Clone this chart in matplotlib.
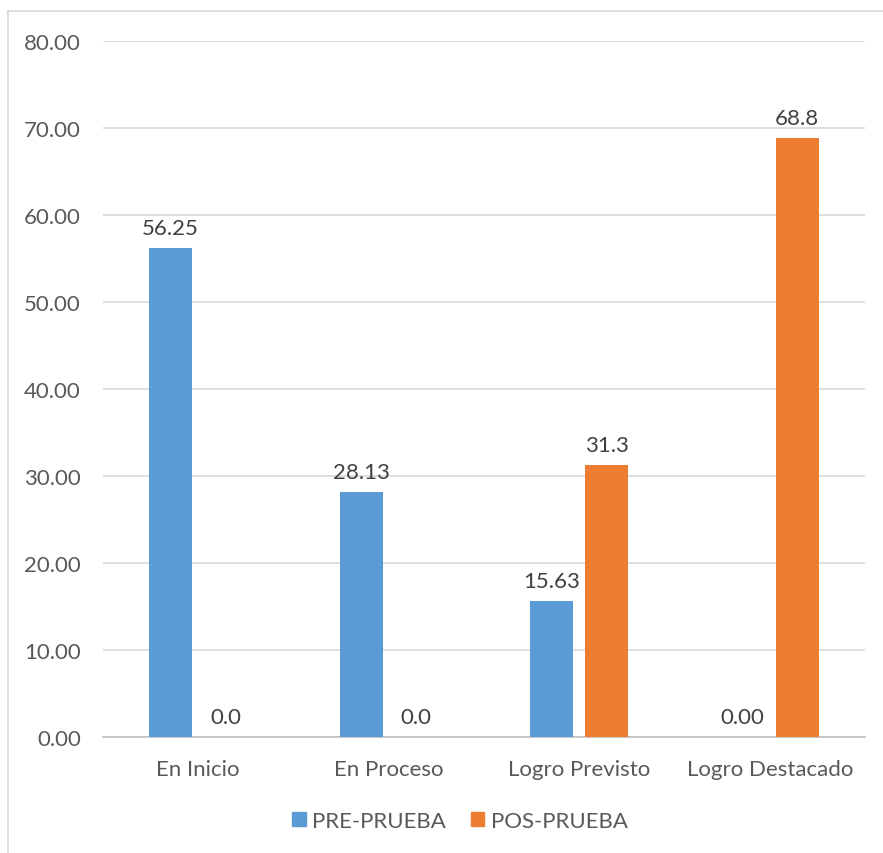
import numpy as np
import matplotlib.pyplot as plt
from matplotlib.lines import Line2D

categories = ["En Inicio", "En Proceso", "Logro Previsto", "Logro Destacado"]
pre = [56.25, 28.13, 15.63, 0.0]
pos = [0.0, 0.0, 31.3, 68.8]
pre_labels = ["56.25", "28.13", "15.63", "0.00"]
pos_labels = ["0.0", "0.0", "31.3", "68.8"]
yticks = [0, 10, 20, 30, 40, 50, 60, 70, 80]

blue = "#5B9BD5"
orange = "#ED7D31"
gray_txt = "#595959"

plt.rcParams['font.family'] = ['Lato', 'DejaVu Sans']

fig = plt.figure(figsize=(8.83, 8.54), dpi=100)
ax = fig.add_axes([103/883, 1 - 738/854, 762/883, 696/854])

x = np.arange(len(categories))
w = 0.225
off = 0.145
b1 = ax.bar(x - off, pre, w, color=blue, zorder=3)
b2 = ax.bar(x + off, pos, w, color=orange, zorder=3)

for bars, labs in ((b1, pre_labels), (b2, pos_labels)):
    for r, lab in zip(bars, labs):
        ax.annotate(lab, (r.get_x() + r.get_width() / 2, r.get_height()),
                    xytext=(0, 10), textcoords="offset pixels",
                    ha="center", va="bottom", fontsize=16, color="#404040")

ax.set_xlim(-0.5, 3.5)
ax.set_ylim(0, 80)
ax.set_yticks(yticks)
ax.set_yticklabels([f"{v:.2f}" for v in yticks])
ax.set_xticks(x)
ax.set_xticklabels(categories)
ax.tick_params(axis="both", length=0, labelsize=16, colors=gray_txt)
ax.tick_params(axis="y", pad=16)
ax.tick_params(axis="x", pad=16)
ax.grid(axis="y", color="#D9D9D9", linewidth=1.2, zorder=0)
for s in ["top", "right", "left"]:
    ax.spines[s].set_visible(False)
ax.spines["bottom"].set_color("#BFBFBF")
ax.spines["bottom"].set_linewidth(1.2)

handles = [plt.Rectangle((0, 0), 1, 1, color=blue),
           plt.Rectangle((0, 0), 1, 1, color=orange)]
fig.legend(handles, ["PRE-PRUEBA", "POS-PRUEBA"], loc="center",
           bbox_to_anchor=(460/883, 1 - 822/854), ncol=2, frameon=False,
           fontsize=16, labelcolor=gray_txt, handlelength=0.6, handleheight=0.6,
           handletextpad=0.3, columnspacing=1.1)

# chart border (only left and top edges visible in the crop)
fig.add_artist(Line2D([8/883, 8/883], [0, 1 - 12/854], transform=fig.transFigure,
                      color="#D9D9D9", linewidth=1.2))
fig.add_artist(Line2D([8/883, 1], [1 - 12/854, 1 - 12/854], transform=fig.transFigure,
                      color="#D9D9D9", linewidth=1.2))

fig.savefig("out.png", dpi=100)
